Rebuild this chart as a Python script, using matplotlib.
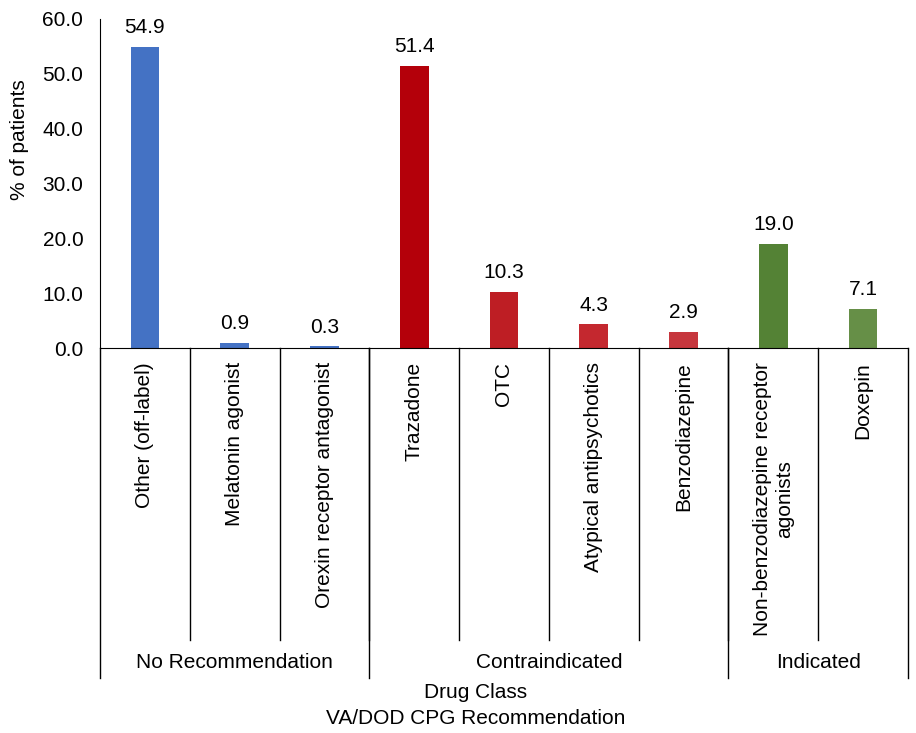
import matplotlib.pyplot as plt
import matplotlib.transforms as mtransforms

plt.rcParams['font.family'] = ['Liberation Sans', 'DejaVu Sans']

# Data
drug_classes = ["Other (off-label)", "Melatonin agonist", "Orexin receptor antagonist",
                "Trazadone", "OTC", "Atypical antipsychotics", "Benzodiazepine",
                "Non-benzodiazepine receptor\nagonists", "Doxepin"]
pct_patients = [54.9, 0.9, 0.3, 51.4, 10.3, 4.3, 2.9, 19.0, 7.1]
bar_colors = ["#4472C4", "#4472C4", "#4472C4",
              "#B4000A", "#BE1E24", "#C4282F", "#C6363D",
              "#548235", "#668F47"]
groups = ["No Recommendation", "Contraindicated", "Indicated"]
group_sizes = [3, 4, 2]

FS = 15

fig = plt.figure(figsize=(9.16, 7.33), dpi=100)
ax = fig.add_axes([100 / 916, 1 - 348 / 733, 808 / 916, 329 / 733])

x = list(range(len(drug_classes)))
bars = ax.bar(x, pct_patients, width=0.32, color=bar_colors)

for xi, v in zip(x, pct_patients):
    ax.annotate(f"{v:.1f}", (xi, v), xytext=(0, 7), textcoords="offset points",
                ha="center", va="bottom", fontsize=FS)

ax.set_xlim(-0.5, len(drug_classes) - 0.5)
ax.set_ylim(0, 60)
ax.set_yticks(range(0, 61, 10))
ax.set_yticklabels([f"{t:.1f}" for t in range(0, 61, 10)], fontsize=FS)
ax.tick_params(axis="y", length=0, pad=12)
ax.set_xticks([])
ax.spines["top"].set_visible(False)
ax.spines["right"].set_visible(False)
ax.set_ylabel("% of patients", fontsize=FS)
ax.yaxis.set_label_coords(-(100 - 29) / 808, (348 - 140) / 329)

trans = mtransforms.blended_transform_factory(ax.transData, ax.transAxes)
ax_h = 329.0
cat_bottom = -(640 - 348) / ax_h
grp_bottom = -(678 - 348) / ax_h

# category labels and separators
for xi, name in zip(x, drug_classes):
    ax.text(xi, -14 / ax_h, name, transform=trans, rotation=90, ha="center", va="top",
            fontsize=FS, multialignment="center", linespacing=1.2)
for xi in x[:-1]:
    ax.plot([xi + 0.5, xi + 0.5], [0, cat_bottom], transform=trans, color="black",
            lw=1, clip_on=False)

# group labels and separators
start = 0
bounds = [-0.5]
for g, n in zip(groups, group_sizes):
    mid = start + (n - 1) / 2
    ax.text(mid, -(662 - 348) / ax_h, g, transform=trans, ha="center", va="center",
            fontsize=FS)
    start += n
    bounds.append(start - 0.5)
for b in bounds:
    ax.plot([b, b], [0, grp_bottom], transform=trans, color="black", lw=1, clip_on=False)

fig.text(476 / 916, 1 - 693 / 733, "Drug Class", ha="center", va="center", fontsize=FS)
fig.text(476 / 916, 1 - 718 / 733, "VA/DOD CPG Recommendation",
         ha="center", va="center", fontsize=FS)

fig.savefig("out.png", dpi=100)
